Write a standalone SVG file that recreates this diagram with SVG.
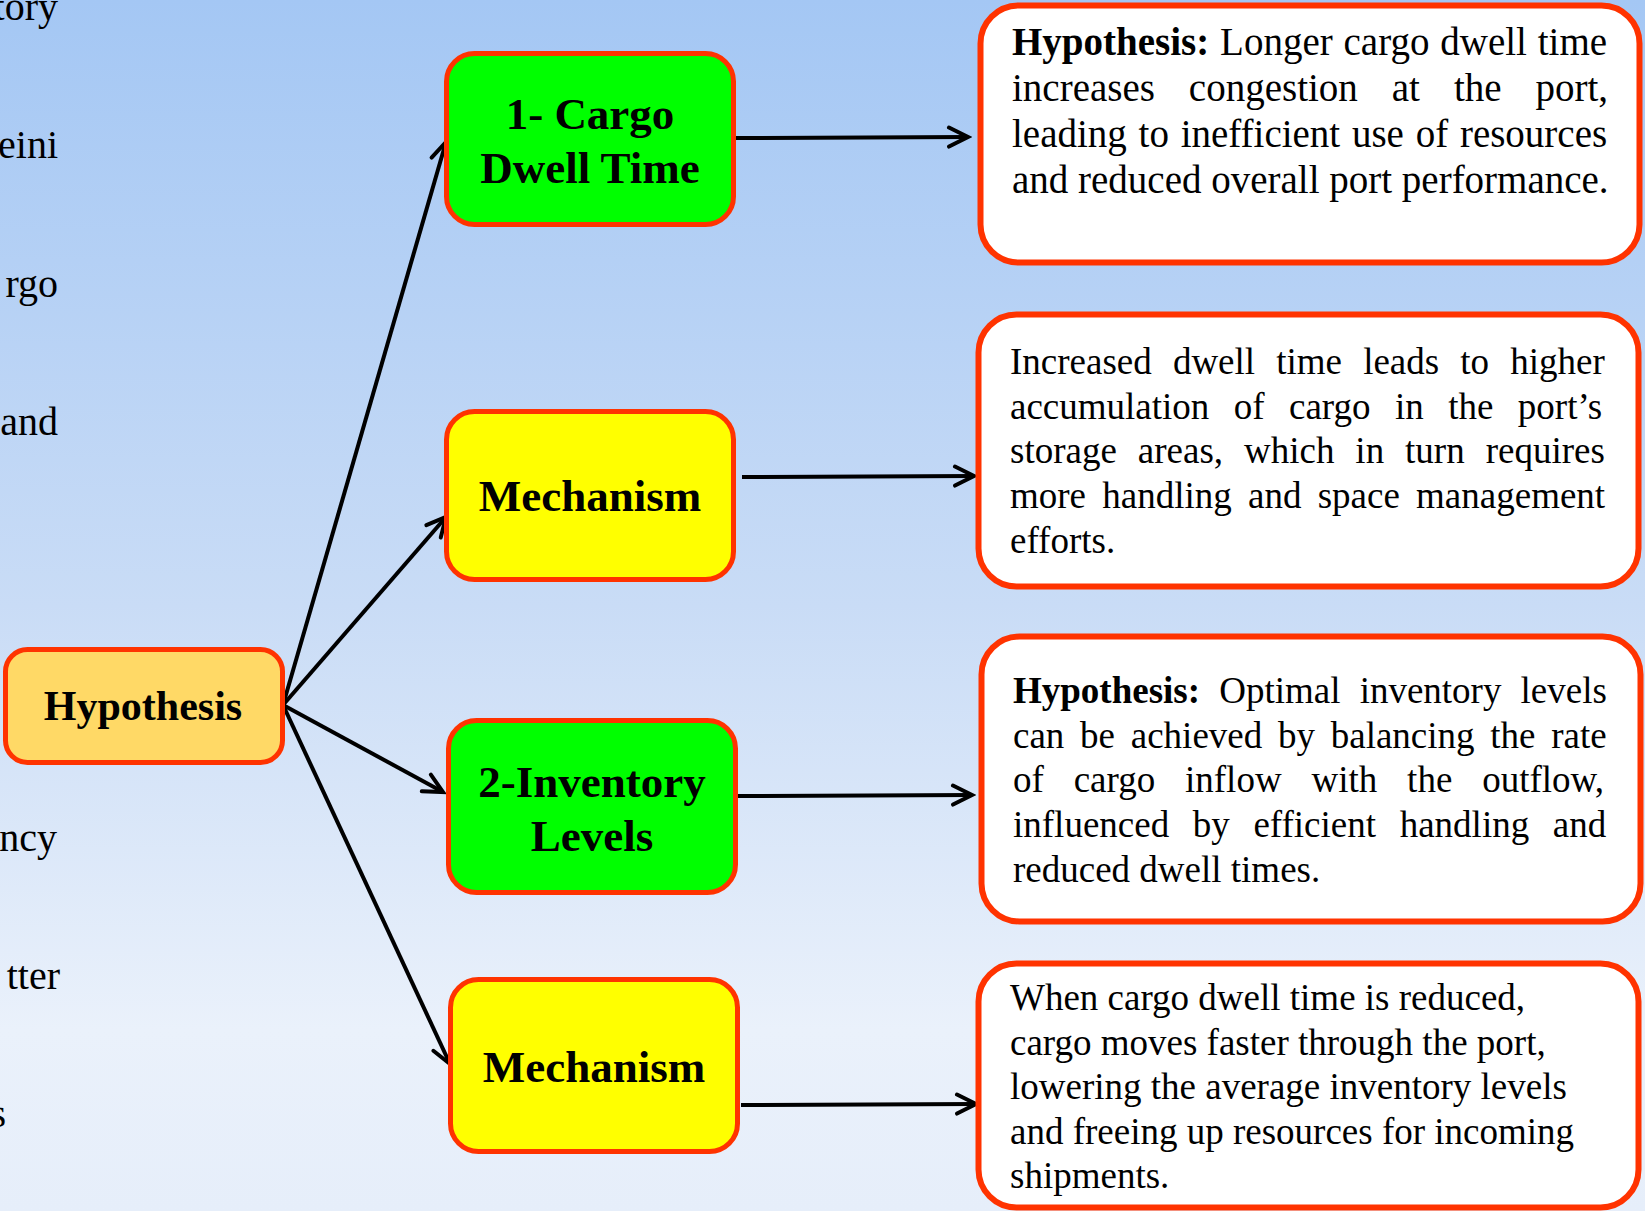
<svg xmlns="http://www.w3.org/2000/svg" width="1645" height="1211" viewBox="0 0 1645 1211">
  <defs>
    <linearGradient id="bg" x1="0" y1="0" x2="0" y2="1">
      <stop offset="0" stop-color="#A4C7F4"/>
      <stop offset="0.5" stop-color="#C9DCF6"/>
      <stop offset="0.85" stop-color="#EAF1FB"/>
      <stop offset="1" stop-color="#E6EEFA"/>
    </linearGradient>
    <marker id="arr" viewBox="-24 -14 28 28" refX="0" refY="0" markerWidth="28" markerHeight="28" markerUnits="userSpaceOnUse" orient="auto">
      <path d="M-19,-9.5 L0,0 L-19,9.5" fill="none" stroke="#000" stroke-width="4" stroke-linecap="round" stroke-linejoin="miter"/>
    </marker>
    <style>
      .node { stroke: #FF3300; stroke-width: 5; }
      .hyp { fill: #FFD966; }
      .green { fill: #00FF00; }
      .yellow { fill: #FFFF00; }
      .card { fill: #FFFFFF; stroke: #FF3300; stroke-width: 6; }
      .title { font-family: "Liberation Serif", "Times New Roman", serif; font-weight: bold; font-size: 45px; fill: #000; text-anchor: middle; }
      .body { font-family: "Liberation Serif", "Times New Roman", serif; font-size: 37px; fill: #000; }
      .big { font-size: 39px; }
      .b { font-weight: bold; }
      .edge { font-family: "Liberation Serif", "Times New Roman", serif; font-size: 40px; fill: #000; text-anchor: end; }
      .link { stroke: #000; stroke-width: 4; fill: none; marker-end: url(#arr); }
    </style>
  </defs>

  <!-- page background -->
  <rect x="0" y="0" width="1645" height="1211" fill="url(#bg)"/>

  <!-- clipped column of text at the left margin -->
  <g id="margin-text">
    <text class="edge" x="58" y="20">tory</text>
    <text class="edge" x="58" y="158">eini</text>
    <text class="edge" x="58" y="297">rgo</text>
    <text class="edge" x="58" y="435">and</text>
    <text class="edge" x="57" y="851">ncy</text>
    <text class="edge" x="60" y="989">tter</text>
    <text class="edge" x="6" y="1127">s</text>
  </g>

  <!-- connectors -->
  <g id="connectors">
    <line class="link" x1="283" y1="705" x2="446" y2="142"/>
    <line class="link" x1="283" y1="705" x2="446" y2="517"/>
    <line class="link" x1="283" y1="705" x2="443" y2="792"/>
    <line class="link" x1="283" y1="705" x2="450" y2="1064"/>
    <line class="link" x1="736" y1="138" x2="968" y2="137"/>
    <line class="link" x1="742" y1="477" x2="974" y2="476"/>
    <line class="link" x1="738" y1="796" x2="972" y2="795"/>
    <line class="link" x1="741" y1="1105" x2="976" y2="1104"/>
  </g>

  <!-- root node -->
  <g id="node-hypothesis">
    <rect class="node hyp" x="5.5" y="649.5" width="277" height="113" rx="22"/>
    <text class="title" x="143" y="720" style="font-size:42px">Hypothesis</text>
  </g>

  <!-- factor and mechanism nodes -->
  <g id="node-dwell">
    <rect class="node green" x="446.5" y="53.5" width="287" height="171" rx="28"/>
    <text class="title" x="590" y="129">1- Cargo</text>
    <text class="title" x="590" y="183">Dwell Time</text>
  </g>
  <g id="node-mechanism-1">
    <rect class="node yellow" x="446.5" y="411.5" width="287" height="168" rx="28"/>
    <text class="title" x="590" y="511">Mechanism</text>
  </g>
  <g id="node-inventory">
    <rect class="node green" x="448.5" y="720.5" width="287" height="172" rx="28"/>
    <text class="title" x="592" y="797">2-Inventory</text>
    <text class="title" x="592" y="851">Levels</text>
  </g>
  <g id="node-mechanism-2">
    <rect class="node yellow" x="450.5" y="979.5" width="287" height="172" rx="28"/>
    <text class="title" x="594" y="1082">Mechanism</text>
  </g>

  <!-- explanation cards -->
  <g id="card-dwell">
    <rect class="card" x="980.5" y="5.5" width="659" height="257" rx="38"/>
    <text class="body big" x="1012" y="55" style="word-spacing:1.1px"><tspan class="b">Hypothesis:</tspan> Longer cargo dwell time</text>
    <text class="body big" x="1012" y="101" style="word-spacing:24.2px">increases congestion at the port,</text>
    <text class="body big" x="1012" y="147" style="word-spacing:2px">leading to inefficient use of resources</text>
    <text class="body big" x="1012" y="193">and reduced overall port performance.</text>
  </g>
  <g id="card-mechanism-1">
    <rect class="card" x="978.5" y="314.5" width="660" height="272" rx="38"/>
    <text class="body" x="1010" y="374" style="word-spacing:11.9px">Increased dwell time leads to higher</text>
    <text class="body" x="1010" y="419" style="word-spacing:15.2px">accumulation of cargo in the port’s</text>
    <text class="body" x="1010" y="463" style="word-spacing:11.7px">storage areas, which in turn requires</text>
    <text class="body" x="1010" y="508" style="word-spacing:7px">more handling and space management</text>
    <text class="body" x="1010" y="553">efforts.</text>
  </g>
  <g id="card-inventory">
    <rect class="card" x="981.5" y="636.5" width="659" height="285" rx="38"/>
    <text class="body" x="1013" y="703" style="word-spacing:9.9px"><tspan class="b">Hypothesis:</tspan> Optimal inventory levels</text>
    <text class="body" x="1013" y="748" style="word-spacing:6.5px">can be achieved by balancing the rate</text>
    <text class="body" x="1013" y="792" style="word-spacing:20.6px">of cargo inflow with the outflow,</text>
    <text class="body" x="1013" y="837" style="word-spacing:14.4px">influenced by efficient handling and</text>
    <text class="body" x="1013" y="882">reduced dwell times.</text>
  </g>
  <g id="card-mechanism-2">
    <rect class="card" x="978.5" y="963.5" width="660" height="244" rx="38"/>
    <text class="body" x="1010" y="1010">When cargo dwell time is reduced,</text>
    <text class="body" x="1010" y="1055">cargo moves faster through the port,</text>
    <text class="body" x="1010" y="1099">lowering the average inventory levels</text>
    <text class="body" x="1010" y="1144">and freeing up resources for incoming</text>
    <text class="body" x="1010" y="1188">shipments.</text>
  </g>
</svg>
